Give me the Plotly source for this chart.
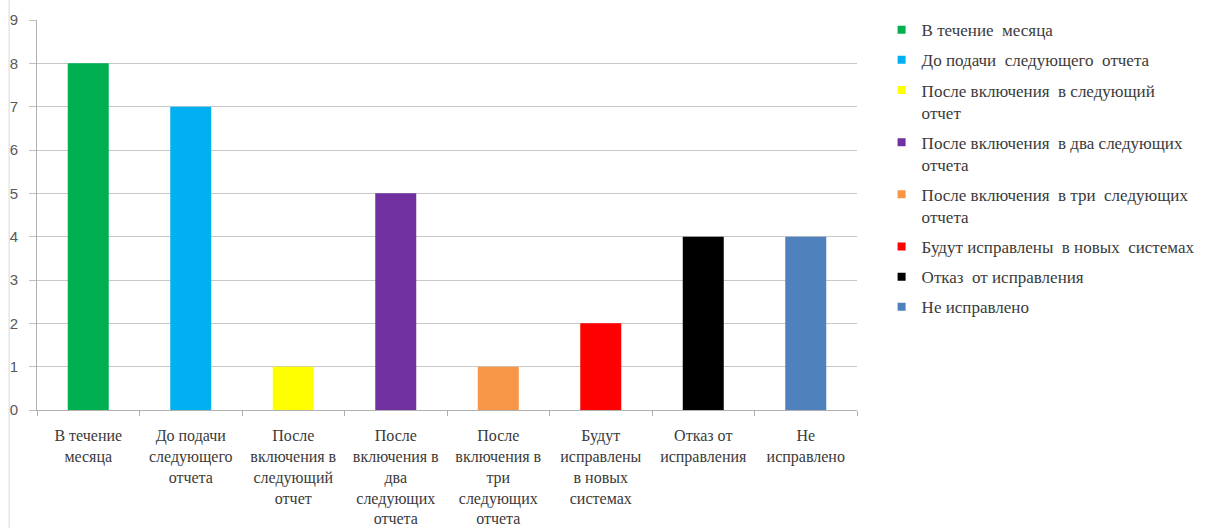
import plotly.graph_objects as go

categories = ["В течение месяца", "До подачи следующего отчета",
              "После включения в следующий отчет", "После включения в два следующих отчета",
              "После включения в три следующих отчета", "Будут исправлены в новых системах",
              "Отказ от исправления", "Не исправлено"]
values = [8, 7, 1, 5, 1, 2, 4, 4]
tick_labels = ["В течение<br>месяца", "До подачи<br>следующего<br>отчета",
               "После<br>включения в<br>следующий<br>отчет",
               "После<br>включения в<br>два<br>следующих<br>отчета",
               "После<br>включения в<br>три<br>следующих<br>отчета",
               "Будут<br>исправлены<br>в новых<br>системах",
               "Отказ от<br>исправления", "Не<br>исправлено"]
legend_labels = ["В течение  месяца", "До подачи  следующего  отчета",
                 "После включения  в следующий<br>отчет",
                 "После включения  в два следующих<br>отчета",
                 "После включения  в три  следующих<br>отчета",
                 "Будут исправлены  в новых  системах",
                 "Отказ  от исправления", "Не исправлено"]
colors = ["#00b050", "#00b0f0", "#ffff00", "#7030a0", "#f79646", "#ff0000", "#000000", "#4f81bd"]

fig = go.Figure()
for cat, val, col in zip(categories, values, colors):
    fig.add_trace(go.Bar(x=[cat], y=[val], marker=dict(color=col, line=dict(width=0)),
                         showlegend=False))
for i, (lab, col) in enumerate(zip(legend_labels, colors)):
    fig.add_trace(go.Scatter(x=[None], y=[None], mode="markers", name=lab,
                             legendgroup=str(i),
                             marker=dict(symbol="square", size=8, color=col)))

serif = "Times New Roman"
fig.update_layout(
    width=1215, height=528,
    margin=dict(l=37, r=358, t=20, b=118, autoexpand=False),
    paper_bgcolor="white", plot_bgcolor="white",
    barmode="overlay", bargap=0.6,
    legend=dict(x=1.03, xanchor="left", y=1.02, yanchor="top",
                font=dict(family=serif, size=17, color="#3a3a3a"),
                valign="top", tracegroupgap=5, itemwidth=30, maxheight=1000),
    xaxis=dict(type="category", categoryarray=categories,
               tickvals=categories, ticktext=tick_labels,
               tickson="boundaries", ticks="outside", ticklen=5,
               tickcolor="#b0b0b0", showline=True, linecolor="#b0b0b0",
               showgrid=False, ticklabelstandoff=11, automargin=False,
               tickfont=dict(family=serif, size=16, color="#3a3a3a")),
    yaxis=dict(range=[0, 9], dtick=1, ticks="outside", ticklen=7,
               tickcolor="#c0c0c0", showline=True, linecolor="#b0b0b0",
               gridcolor="#c8c8c8", gridwidth=1, zeroline=False,
               ticklabelstandoff=8, automargin=False,
               tickfont=dict(family="Liberation Sans", size=15, color="#595959")),
    shapes=[dict(type="line", xref="paper", yref="paper",
                 x0=-0.034, x1=-0.034, y0=-0.31, y1=1.06,
                 line=dict(color="#d8d8d8", width=1))],
)

fig.write_html("out.html")
